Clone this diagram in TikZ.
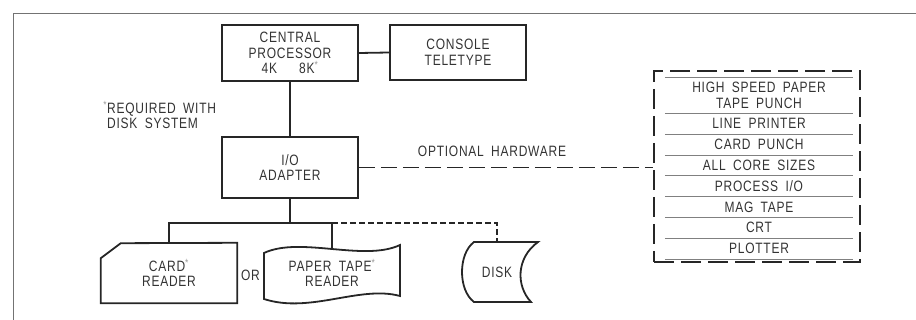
\documentclass[tikz,border=0pt]{standalone}
\usepackage{fontspec}
\setmainfont{Liberation Sans}[FakeStretch=0.8,LetterSpace=5,WordSpace=1.8]
\usetikzlibrary{positioning}
\newcommand{\reqmark}{\textsuperscript{\textcolor{black!40}{*}}}

\begin{document}
\begin{tikzpicture}[
    x=1pt, y=-1pt,
    font=\fontsize{15}{15.5}\selectfont,
    text=black!80,
    unit/.style={rectangle, draw=black!85, line width=1.9pt, minimum width=136pt, align=center, inner sep=0pt},
    device/.style={align=center, inner sep=0pt, minimum width=136pt, minimum height=60pt},
    link/.style={draw=black!85, line width=1.8pt},
    optlink/.style={link, dash pattern=on 16pt off 6pt},
    disklink/.style={link, dash pattern=on 6pt off 3pt},
    optrow/.style={minimum width=188pt, minimum height=20.43pt, inner sep=0pt, align=center},
    rowrule/.style={draw=black!50, line width=0.6pt}
]
\useasboundingbox (0,0) rectangle (916,320);
% frame
\draw[black!55, line width=0.9pt] (13,320) -- (13,13) -- (916,13);

% processor and console
\node[unit, minimum height=56pt] (cpu) at (290,53) {CENTRAL\\PROCESSOR\\4K\hspace{22pt}8K\reqmark};
\node[unit, minimum height=55pt] (tty) at (458,52.5) {CONSOLE\\TELETYPE};
\node[unit, minimum height=61pt] (io) at (290,167.5) {I/O\\ADAPTER};
\node[align=left, anchor=west, inner sep=0pt] (note) at (107,115) {\llap{\reqmark}REQUIRED WITH\\DISK SYSTEM};

\draw[link] (cpu.east) -- (tty.west);
\draw[link] (cpu) -- (io);

% input devices
\node[device] (card) at (169,273) {CARD\reqmark\\READER};
\node[device, minimum height=48pt] (tape) at (332,273) {PAPER TAPE\reqmark\\READER};
\node[device, minimum width=80pt] (disk) at (497,272) {DISK};
\node (or) at (250.5,275) {OR};

\draw[link] (card.north east) -- (card.south east) -- (card.south west) -- ++(0,-45) -- ++(20,-15) -- cycle;
\draw[link] (264,253) .. controls (300,236) and (364,262) .. (400,245) -- (400,296)
    .. controls (360,285) and (310,314) .. (264,299) -- cycle;
\draw[link] (474,242) -- (538,242) .. controls (516,258) and (516,286) .. (531,302) -- (474,302)
    .. controls (458,290) and (458,254) .. cycle;

\coordinate[below=24pt of io] (bus);
\draw[link] (io) -- (bus);
\draw[link] (card.north) |- (bus) -| (tape.north);
\draw[disklink] (tape.north |- bus) -| (disk.north);

% optional hardware
\node[draw=black!85, line width=1.9pt, dash pattern=on 20pt off 7pt, minimum width=206pt, minimum height=191pt] (opt) at (757,166.5) {};
\node[optrow, minimum height=35pt] (hs) at (759,95.5) {HIGH SPEED PAPER\\TAPE PUNCH};
\node[optrow, below=0pt of hs] (lp) {LINE PRINTER};
\node[optrow, below=0pt of lp] (cp) {CARD PUNCH};
\node[optrow, below=0pt of cp] (acs) {ALL CORE SIZES};
\node[optrow, below=0pt of acs] (pio) {PROCESS I/O};
\node[optrow, below=0pt of pio] (mag) {MAG TAPE};
\node[optrow, below=0pt of mag] (crt) {CRT};
\node[optrow, below=0pt of crt] (plot) {PLOTTER};
\draw[rowrule] (hs.north west) -- (hs.north east);
\foreach \r in {hs,lp,cp,acs,pio,mag,crt,plot}
    \draw[rowrule] (\r.south west) -- (\r.south east);

\node (optlabel) at (492,151) {OPTIONAL HARDWARE};
\draw[optlink] (io.east) -- (io.east -| opt.west);
\end{tikzpicture}
\end{document}
